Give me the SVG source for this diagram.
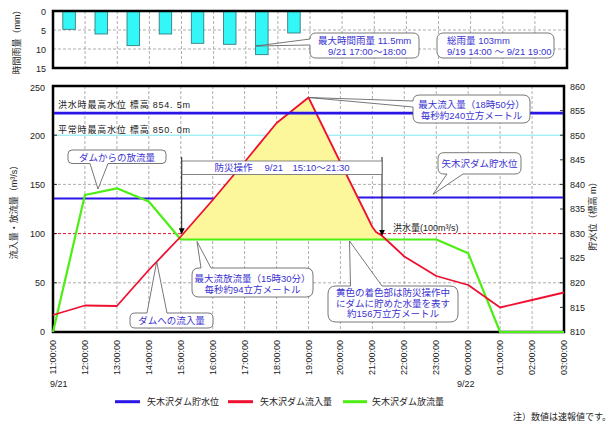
<svg xmlns="http://www.w3.org/2000/svg" width="614" height="423" viewBox="0 0 614 423">
<style>
text{font-family:"Liberation Sans","Noto Sans CJK JP",sans-serif;font-size:9px;fill:#222}
.ax{font-size:9px;fill:#333}
.tm{font-size:8px;fill:#333}
.cb{fill:#3b33d1;font-size:9.5px}
.grid{stroke:#9a9a9a;stroke-width:0.8;stroke-dasharray:3,2;fill:none}
.frame{fill:none;stroke:#000;stroke-width:2.5}
.call{fill:#fff;stroke:#555;stroke-width:0.8}
.bar{fill:#33f6f6;stroke:#2c6f75;stroke-width:0.8}
.tick{stroke:#000;stroke-width:0.8}
</style>
<defs>
<marker id="arr" viewBox="0 0 8 8" refX="7" refY="4" markerWidth="6" markerHeight="6" orient="auto" markerUnits="userSpaceOnUse">
<path d="M0,0 L8,4 L0,8 Z" fill="#000"/>
</marker>
</defs>
<rect width="614" height="423" fill="#fff"/>

<g id="rain-chart">
<rect x="53" y="11" width="514" height="57" fill="#fff"/>
<g class="grid">
<line x1="53" y1="30" x2="567" y2="30"/>
<line x1="53" y1="49" x2="567" y2="49"/>
<line x1="85.1" y1="11" x2="85.1" y2="68"/>
<line x1="117.3" y1="11" x2="117.3" y2="68"/>
<line x1="149.4" y1="11" x2="149.4" y2="68"/>
<line x1="181.5" y1="11" x2="181.5" y2="68"/>
<line x1="213.6" y1="11" x2="213.6" y2="68"/>
<line x1="245.8" y1="11" x2="245.8" y2="68"/>
<line x1="277.9" y1="11" x2="277.9" y2="68"/>
<line x1="310" y1="11" x2="310" y2="68"/>
<line x1="342.1" y1="11" x2="342.1" y2="68"/>
<line x1="374.3" y1="11" x2="374.3" y2="68"/>
<line x1="406.4" y1="11" x2="406.4" y2="68"/>
<line x1="438.5" y1="11" x2="438.5" y2="68"/>
<line x1="470.6" y1="11" x2="470.6" y2="68"/>
<line x1="502.8" y1="11" x2="502.8" y2="68"/>
<line x1="534.9" y1="11" x2="534.9" y2="68"/>
</g>
<rect class="bar" x="62.8" y="11" width="12.5" height="18.3"/>
<rect class="bar" x="95" y="11" width="12.5" height="23"/>
<rect class="bar" x="127" y="11" width="12.5" height="34.7"/>
<rect class="bar" x="159.2" y="11" width="12.5" height="23"/>
<rect class="bar" x="191.3" y="11" width="12.5" height="32.3"/>
<rect class="bar" x="223.5" y="11" width="12.5" height="33.3"/>
<rect class="bar" x="255.6" y="11" width="12.5" height="43.7"/>
<rect class="bar" x="287.7" y="11" width="12.5" height="22"/>
<rect class="frame" x="53" y="11" width="514" height="57"/>
<g class="ax" text-anchor="end">
<text x="46" y="14.5">0</text>
<text x="46" y="33.5">5</text>
<text x="46" y="52.5">10</text>
<text x="46" y="71.5">15</text>
</g>
<text transform="translate(19.5,40) rotate(-90)" text-anchor="middle" font-size="9.5">時間雨量（mm）</text>
</g>

<g id="callout-max-rain">
<path class="call" d="M316,33 H413 Q419,33 419,39 V52 Q419,58 413,58 H316 Q310,58 310,52 V45 L256,46 L310,39 Q310,33 316,33 Z"/>
<text class="cb" x="318" y="44">最大時間雨量  11.5mm</text>
<text class="cb" x="328" y="55">9/21   17:00～18:00</text>
</g>

<g id="callout-total-rain">
<rect class="call" x="437" y="33" width="117" height="25" rx="6"/>
<text class="cb" x="447" y="44">総雨量  103mm</text>
<text class="cb" x="447" y="55">9/19 14:00 ～ 9/21 19:00</text>
</g>

<g id="main-chart">
<rect x="53" y="86" width="511" height="246" fill="#fff"/>
<g class="grid">
<line x1="53" y1="184.4" x2="564" y2="184.4"/>
<line x1="53" y1="282.8" x2="564" y2="282.8"/>
<line x1="84.9" y1="86" x2="84.9" y2="332"/>
<line x1="116.9" y1="86" x2="116.9" y2="332"/>
<line x1="148.8" y1="86" x2="148.8" y2="332"/>
<line x1="180.8" y1="86" x2="180.8" y2="332"/>
<line x1="212.7" y1="86" x2="212.7" y2="332"/>
<line x1="244.6" y1="86" x2="244.6" y2="332"/>
<line x1="276.6" y1="86" x2="276.6" y2="332"/>
<line x1="308.5" y1="86" x2="308.5" y2="332"/>
<line x1="340.4" y1="86" x2="340.4" y2="332"/>
<line x1="372.4" y1="86" x2="372.4" y2="332"/>
<line x1="404.3" y1="86" x2="404.3" y2="332"/>
<line x1="436.3" y1="86" x2="436.3" y2="332"/>
<line x1="468.2" y1="86" x2="468.2" y2="332"/>
<line x1="500.1" y1="86" x2="500.1" y2="332"/>
<line x1="532.1" y1="86" x2="532.1" y2="332"/>
</g>
<line x1="53" y1="135.2" x2="564" y2="135.2" stroke="#80e6ee" stroke-width="1"/>
<line x1="53" y1="233.6" x2="564" y2="233.6" stroke="#e81030" stroke-width="1" stroke-dasharray="3,2"/>
<rect class="frame" x="53" y="86" width="511" height="246"/>
<polyline points="54,198.5 230,198.5 232,197.6 563,197.6" fill="none" stroke="#2a14e6" stroke-width="2"/>
<polygon points="178,239.5 180.8,236.5 212.7,200 244.6,162 276.6,123 308.5,97.5 340.4,162.5 372.4,227 376,232 381.7,235.5 386,239.5" fill="#fbf79a"/>
<polyline points="53,332 84.9,195 116.9,188.3 148.8,201.5 180.8,239.5 436.3,239.5 468.2,253.3 500.1,332 564,332" fill="none" stroke="#4cee14" stroke-width="2.2" stroke-linejoin="round"/>
<polyline points="53,315 84.9,305.5 116.9,306 148.8,270 180.8,236.5 212.7,200 244.6,162 276.6,123 308.5,97.5 340.4,162.5 372.4,227 376,232 381.7,235.5 404.3,256.5 436.3,276 468.2,285 500.1,307.5 532.1,300 564,292.5" fill="none" stroke="#f01030" stroke-width="1.8" stroke-linejoin="round"/>
<line x1="54" y1="113.1" x2="563" y2="113.1" stroke="#2a14e6" stroke-width="2.6"/>
<text x="58" y="107.5" font-size="10" textLength="132" lengthAdjust="spacing">洪水時最高水位 標高 854. 5m</text>
<text x="58" y="133" font-size="10" textLength="132" lengthAdjust="spacing">平常時最高水位 標高 850. 0m</text>
<text x="393" y="231">洪水量(100m³/s)</text>
<g class="tick">
<line x1="53" y1="135.2" x2="57" y2="135.2"/>
<line x1="53" y1="184.4" x2="57" y2="184.4"/>
<line x1="53" y1="233.6" x2="57" y2="233.6"/>
<line x1="53" y1="282.8" x2="57" y2="282.8"/>
<line x1="560" y1="110.6" x2="564" y2="110.6"/>
<line x1="560" y1="135.2" x2="564" y2="135.2"/>
<line x1="560" y1="159.8" x2="564" y2="159.8"/>
<line x1="560" y1="184.4" x2="564" y2="184.4"/>
<line x1="560" y1="209" x2="564" y2="209"/>
<line x1="560" y1="233.6" x2="564" y2="233.6"/>
<line x1="560" y1="258.2" x2="564" y2="258.2"/>
<line x1="560" y1="282.8" x2="564" y2="282.8"/>
<line x1="560" y1="307.4" x2="564" y2="307.4"/>
</g>
<g class="ax" text-anchor="end">
<text x="45" y="91">250</text>
<text x="45" y="139">200</text>
<text x="45" y="188">150</text>
<text x="45" y="237">100</text>
<text x="45" y="286">50</text>
<text x="45" y="335">0</text>
</g>
<g class="ax">
<text x="570" y="90">860</text>
<text x="570" y="114">855</text>
<text x="570" y="139">850</text>
<text x="570" y="163">845</text>
<text x="570" y="188">840</text>
<text x="570" y="212">835</text>
<text x="570" y="237">830</text>
<text x="570" y="261">825</text>
<text x="570" y="286">820</text>
<text x="570" y="311">815</text>
<text x="570" y="335">810</text>
</g>
<text transform="translate(17,210) rotate(-90)" text-anchor="middle">流入量・放流量（m³/s）</text>
<text transform="translate(596,214) rotate(-90)" text-anchor="middle" font-size="9.5">貯水位（標高 m）</text>
<g class="tm" text-anchor="end">
<text transform="translate(56,340) rotate(-90)">11:00:00</text>
<text transform="translate(87.9,340) rotate(-90)">12:00:00</text>
<text transform="translate(119.9,340) rotate(-90)">13:00:00</text>
<text transform="translate(151.8,340) rotate(-90)">14:00:00</text>
<text transform="translate(183.8,340) rotate(-90)">15:00:00</text>
<text transform="translate(215.7,340) rotate(-90)">16:00:00</text>
<text transform="translate(247.6,340) rotate(-90)">17:00:00</text>
<text transform="translate(279.6,340) rotate(-90)">18:00:00</text>
<text transform="translate(311.5,340) rotate(-90)">19:00:00</text>
<text transform="translate(343.4,340) rotate(-90)">20:00:00</text>
<text transform="translate(375.4,340) rotate(-90)">21:00:00</text>
<text transform="translate(407.3,340) rotate(-90)">22:00:00</text>
<text transform="translate(439.3,340) rotate(-90)">23:00:00</text>
<text transform="translate(471.2,340) rotate(-90)">00:00:00</text>
<text transform="translate(503.1,340) rotate(-90)">01:00:00</text>
<text transform="translate(535.1,340) rotate(-90)">02:00:00</text>
<text transform="translate(567,340) rotate(-90)">03:00:00</text>
</g>
<text x="50" y="387" font-size="10.5" fill="#333">9/21</text>
<text x="457" y="387" font-size="10.5" fill="#333">9/22</text>
</g>

<g id="connectors">
<line x1="181.7" y1="157" x2="181.7" y2="233.5" stroke="#000" stroke-width="0.9" marker-end="url(#arr)"/>
<line x1="382" y1="157" x2="382" y2="235" stroke="#000" stroke-width="0.9" marker-end="url(#arr)"/>
</g>

<g id="callout-bousai">
<rect x="182" y="161" width="200" height="13.5" fill="#fff" stroke="#666" stroke-width="0.8"/>
<text class="cb" x="282" y="171" text-anchor="middle" font-size="9">防災操作　 9/21　15:10～21:30</text>
</g>

<g id="callout-outflow">
<path class="call" d="M72,150 H162 Q166,150 166,154 V159.5 Q166,163.5 162,163.5 H108 L98,189 L90,163.5 H72 Q68,163.5 68,159.5 V154 Q68,150 72,150 Z"/>
<text class="cb" x="117" y="160.5" text-anchor="middle" font-size="9">ダムからの放流量</text>
</g>

<g id="callout-max-inflow">
<path class="call" d="M420,95 H523 Q530,95 530,102 V116 Q530,123 523,123 H420 Q413,123 413,116 V107 L308.5,97.5 L413,101 Q413,95 420,95 Z"/>
<text class="cb" x="471.5" y="107.5" text-anchor="middle" font-size="9">最大流入量（18時50分）</text>
<text class="cb" x="471.5" y="119" text-anchor="middle" font-size="9">毎秒約240立方メートル</text>
</g>

<g id="callout-level">
<path class="call" d="M444,152.7 H515 Q521,152.7 521,158.7 V168 Q521,174 515,174 H463 L433,194.3 L447,174 H444 Q438,174 438,168 V158.7 Q438,152.7 444,152.7 Z"/>
<text class="cb" x="479.5" y="167" text-anchor="middle" font-size="9">矢木沢ダム貯水位</text>
</g>

<g id="callout-max-outflow">
<path class="call" d="M199,268 H201 L197,241.5 L211,268 H306 Q313,268 313,275 V290 Q313,297 306,297 H199 Q192,297 192,290 V275 Q192,268 199,268 Z"/>
<text class="cb" x="252.5" y="282" text-anchor="middle" font-size="9">最大流放流量（15時30分）</text>
<text class="cb" x="252.5" y="292.5" text-anchor="middle" font-size="9">毎秒約94立方メートル</text>
</g>

<g id="callout-inflow">
<path class="call" d="M135,313 H147 L156.7,261.7 L167,313 H208 Q213,313 213,318 V323 Q213,328 208,328 H135 Q130,328 130,323 V318 Q130,313 135,313 Z"/>
<text class="cb" x="171.5" y="324" text-anchor="middle" font-size="9">ダムへの流入量</text>
</g>

<g id="callout-yellow">
<path class="call" d="M336,286 H350.5 L349.5,241 L382,286 H450 Q458,286 458,294 V314 Q458,322 450,322 H336 Q328,322 328,314 V294 Q328,286 336,286 Z"/>
<text class="cb" x="393" y="296" text-anchor="middle">黄色の着色部は防災操作中</text>
<text class="cb" x="393" y="306.5" text-anchor="middle">にダムに貯めた水量を表す</text>
<text class="cb" x="393" y="317" text-anchor="middle">約156万立方メートル</text>
</g>

<g id="legend">
<line x1="115" y1="401.7" x2="140" y2="401.7" stroke="#2a14e6" stroke-width="3"/>
<text x="147" y="405">矢木沢ダム貯水位</text>
<line x1="228" y1="401.7" x2="253" y2="401.7" stroke="#f01030" stroke-width="3"/>
<text x="260" y="405">矢木沢ダム流入量</text>
<line x1="343" y1="401.7" x2="367" y2="401.7" stroke="#4cee14" stroke-width="3"/>
<text x="372" y="405">矢木沢ダム放流量</text>
</g>

<text x="513" y="420">注）数値は速報値です。</text>
</svg>
